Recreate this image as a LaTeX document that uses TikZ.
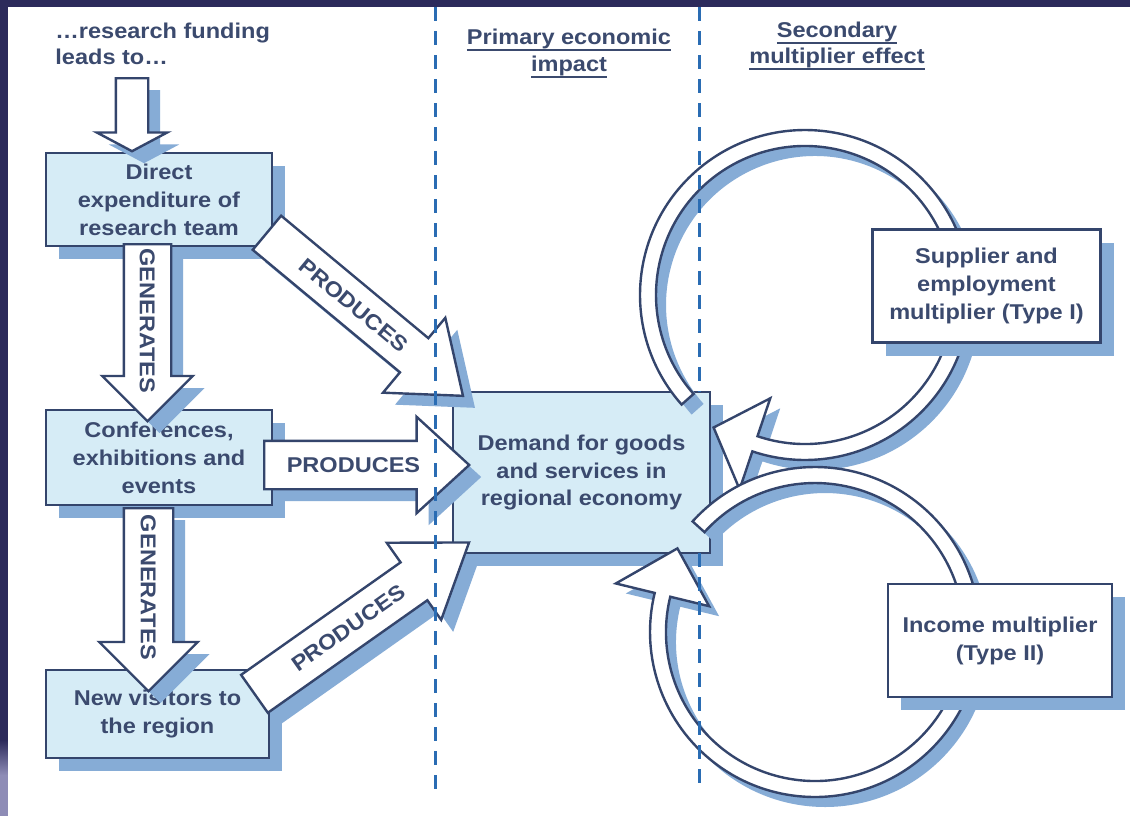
\documentclass[tikz,border=0pt]{standalone}
\usepackage{fontspec}
\setmainfont{Liberation Sans}[FakeStretch=1.1]
\usetikzlibrary{shapes.arrows,shadows}
\definecolor{navy}{HTML}{2C2A5B}
\definecolor{lilac}{HTML}{8E8CB6}
\definecolor{ink}{HTML}{3B4A6E}
\definecolor{edge}{HTML}{34456C}
\definecolor{boxfill}{HTML}{D6ECF6}
\definecolor{shade}{HTML}{86ACD6}
\definecolor{divblue}{HTML}{2A6CB3}
\newcommand\ulhead[1]{\setbox0\hbox{#1}\rlap{\rule[-2.8pt]{\wd0}{0.9pt}}\box0}
\tikzset{
  boxshadow/.style={drop shadow={shadow xshift=#1,shadow yshift=-#1,fill=shade,opacity=1}},
  stage/.style={draw=edge,line width=1.2pt,fill=boxfill,text=ink,align=center,inner sep=0pt,boxshadow=6.5pt},
  effect/.style={stage,fill=white},
  flow/.style={single arrow,draw=edge,line width=1.2pt,fill=white,text=ink,inner xsep=0pt,inner ysep=0pt,anchor=tail,boxshadow=6pt},
  ringpath/.style={draw=edge,line width=1.2pt,fill=white,boxshadow=5pt},
  divider/.style={divblue,line width=1.5pt,dash pattern=on 7pt off 5pt},
  heading/.style={inner sep=0pt,text=ink}
}
\newcommand\ringarrow[4]{%
  \path[ringpath]([shift={#1}]#2:165) arc[start angle=#2,end angle=#3,radius=165]
    --([shift={#1}]#3:205)--([shift={#1}]#4:161)--([shift={#1}]#3:109)
    --([shift={#1}]#3:149) arc[start angle=#3,end angle=#2,radius=149]--cycle;}
\begin{document}
\begin{tikzpicture}[x=0.5pt,y=0.5pt,font=\fontsize{10.7}{14}\selectfont\bfseries]
\useasboundingbox(0,0)rectangle(1130,-816);
\fill[navy](0,0)rectangle(1130,-816);
\shade[top color=navy,bottom color=lilac](0,-740)rectangle(8,-775);
\fill[lilac](0,-775)rectangle(8,-816);
\fill[white](8,-7)rectangle(1130,-816);
\node[stage,minimum width=113pt,minimum height=46.5pt](direct)at(159,-199.5){Direct\\expenditure of\\research team};
\node[stage,minimum width=113pt,minimum height=47.5pt](events)at(159,-457.5){Conferences,\\exhibitions and\\events};
\node[stage,minimum width=111.5pt,minimum height=44pt](visitors)at(157.5,-714){New visitors to\\the region};
\node[stage,minimum width=128.5pt,minimum height=80.5pt](demand)at(581.5,-472.5){Demand for goods\\and services in\\regional economy};
\ringarrow{(805,-295)}{221.6}{-108.6}{-124.6}
\ringarrow{(815,-632)}{137.9}{-193.7}{-211.3}
\node[effect,minimum width=114pt,minimum height=56.5pt](supplier)at(986.5,-286){Supplier and\\employment\\multiplier (Type I)};
\node[effect,minimum width=112pt,minimum height=56.5pt](income)at(1000,-640.5){Income multiplier\\(Type II)};
\node[flow,rotate=-90,minimum height=36.5pt,text height=15pt,text depth=0pt,single arrow head extend=9.5pt,single arrow tip angle=124](funding)at(132,-77){};
\node[flow,rotate=-90,minimum height=88.5pt,text height=15.1pt,text depth=7.4pt,inner xsep=-3pt,single arrow head extend=10.75pt,single arrow tip angle=90](gen1)at(147.5,-243){GENERATES};
\node[flow,rotate=-90,minimum height=91.5pt,text height=15.6pt,text depth=7.9pt,inner xsep=-3pt,single arrow head extend=12.25pt,single arrow tip angle=90](gen2)at(148.5,-507){GENERATES};
\node[flow,rotate=-39.75,minimum height=127.5pt,text height=14.35pt,text depth=6.65pt,single arrow head extend=13.25pt,single arrow tip angle=75](prod1)at(266,-232){PRODUCES};
\node[flow,minimum height=102.5pt,text height=15.35pt,text depth=7.65pt,single arrow head extend=12pt,single arrow tip angle=85](prod2)at(263,-465){PRODUCES};
\node[flow,rotate=35.2,minimum height=131.3pt,text height=14.85pt,text depth=7.15pt,single arrow head extend=12pt,single arrow tip angle=70](prod3)at(253.5,-694.5){PRODUCES};
\draw[divider](435,-7)--(435,-797);
\draw[divider](699,-7)--(699,-392) (699,-553)--(699,-790);
\node[heading,anchor=north west,align=left,font=\fontsize{10.7}{13}\selectfont\bfseries](lead)at(55,-23){…research funding\\leads to…};
\node[heading,anchor=north,align=center,font=\fontsize{10.7}{13.5}\selectfont\bfseries](primary)at(569,-29){\ulhead{Primary economic}\\\ulhead{impact}};
\node[heading,anchor=north,align=center,font=\fontsize{10.7}{13}\selectfont\bfseries](secondary)at(837,-22){\ulhead{Secondary}\\\ulhead{multiplier effect}};
\end{tikzpicture}
\end{document}
